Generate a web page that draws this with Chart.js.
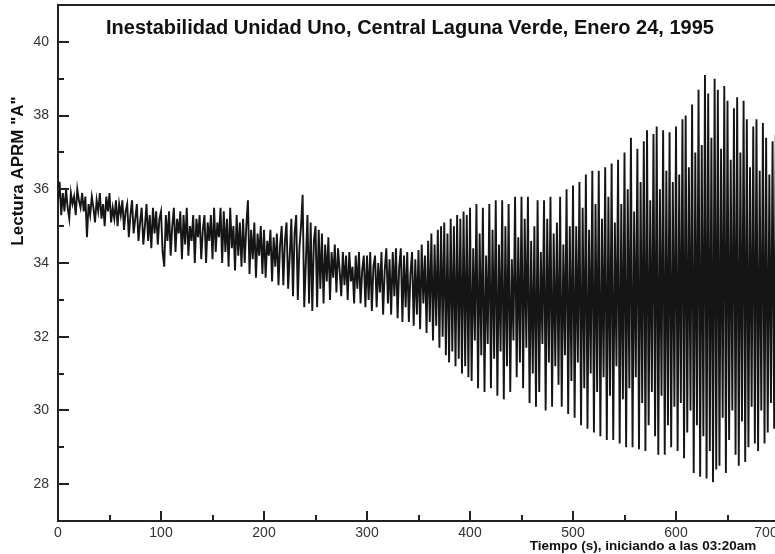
<!DOCTYPE html>
<html>
<head>
<meta charset="utf-8">
<script src="https://cdn.jsdelivr.net/npm/chart.js@4.4.1/dist/chart.umd.min.js"></script>
<style>
  html, body { margin: 0; padding: 0; overflow: hidden; background: #fff; }
  #wrap { width: 800px; height: 554px; }
</style>
</head>
<body>
<div id="wrap"><canvas id="aprmChart" width="800" height="554"></canvas></div>
<script>
// APRM "A" readings, one value every 100/64 s in 100 s blocks
var sampleStep = 100 / 64;

var aprm000 = [
	35.7, 36.2, 35.3, 35.9, 35.4, 36.0, 35.5, 35.2, 35.9, 35.6,
	35.8, 35.3, 36.0, 35.7, 35.5, 35.9, 35.4, 35.8, 34.7, 35.6,
	35.3, 35.8, 35.5, 35.1, 35.7, 35.4, 35.9, 35.2, 35.6, 35.0,
	35.8, 35.4, 35.9, 35.1, 35.5, 35.2, 35.7, 35.0, 35.6, 35.3,
	35.7, 34.9, 35.4, 35.6, 34.7, 35.3, 35.7, 34.8, 35.2, 35.6,
	34.6, 35.1, 35.5, 34.5, 35.0, 35.6, 34.6, 35.3, 34.4, 35.5,
	34.8, 35.4, 34.5, 35.2
];
var aprm100 = [
	35.4, 34.3, 33.9, 35.3, 34.6, 35.4, 34.2, 35.0, 35.5, 34.3,
	35.2, 34.8, 35.4, 34.1, 35.3, 34.5, 35.5, 34.2, 35.0, 34.6,
	35.3, 34.0, 35.2, 34.7, 35.3, 34.1, 34.9, 35.3, 34.0, 35.1,
	34.6, 35.3, 34.1, 35.5, 34.3, 35.1, 34.7, 35.5, 34.0, 35.4,
	34.3, 35.2, 33.9, 35.5, 34.4, 35.0, 33.8, 35.3, 34.2, 35.1,
	33.9, 35.2, 34.0, 35.0, 35.7, 33.7, 34.9, 34.1, 35.1, 33.6,
	34.8, 34.2, 35.0, 33.7
];
var aprm200 = [
	34.9, 33.6, 34.6, 34.2, 34.9, 33.5, 34.7, 33.9, 34.8, 33.4,
	34.5, 35.0, 33.4, 34.6, 35.1, 33.3, 34.2, 35.2, 33.1, 34.8,
	35.3, 33.0, 34.4, 35.0, 35.85, 32.8, 34.0, 35.3, 32.9, 35.1,
	32.7, 34.6, 35.0, 32.8, 34.9, 33.3, 34.8, 32.9, 34.5, 33.5,
	34.7, 33.0, 34.3, 33.6, 34.5, 33.2, 34.4, 33.8, 33.1, 34.3,
	33.4, 34.2, 33.0, 34.3, 33.5, 33.9, 32.9, 34.2, 33.3, 34.3,
	32.9, 33.8, 34.2, 32.8
];
var aprm300 = [
	34.2, 33.0, 34.3, 32.7, 33.9, 34.2, 32.8, 34.0, 33.2, 34.3,
	32.6, 33.8, 34.4, 32.9, 34.1, 32.6, 34.3, 33.1, 34.4, 32.5,
	33.9, 34.4, 32.4, 34.2, 32.8, 34.3, 32.4, 33.7, 34.3, 32.3,
	34.1, 32.6, 34.35, 32.2, 34.5, 32.9, 34.2, 32.1, 34.6, 32.4,
	34.8, 31.9, 34.5, 32.3, 34.9, 31.7, 35.0, 32.0, 35.1, 31.5,
	34.8, 31.3, 35.2, 31.6, 35.0, 31.2, 35.3, 31.4, 35.2, 31.0,
	35.4, 31.2, 35.3, 30.9
];
var aprm400 = [
	35.5, 30.8, 34.4, 31.9, 35.6, 30.6, 34.8, 31.5, 35.5, 30.5,
	34.2, 31.8, 35.6, 30.6, 34.9, 31.4, 35.7, 30.4, 34.5, 31.6,
	35.7, 30.3, 35.0, 31.2, 35.6, 30.5, 34.1, 31.9, 35.8, 30.9,
	34.7, 31.3, 35.8, 30.6, 35.2, 31.7, 35.8, 30.2, 34.6, 31.0,
	35.0, 30.1, 35.7, 30.5, 34.3, 31.8, 35.7, 30.0, 35.2, 31.3,
	35.8, 30.1, 34.8, 31.2, 35.1, 30.7, 35.8, 30.1, 34.5, 31.5,
	36.0, 29.9, 35.0, 30.8
];
var aprm500 = [
	36.1, 29.8, 35.0, 31.3, 36.2, 29.6, 35.5, 30.6, 36.4, 29.5,
	34.9, 31.0, 36.5, 29.4, 35.6, 30.5, 36.5, 29.3, 35.2, 30.9,
	36.6, 29.2, 35.8, 30.4, 36.7, 29.2, 35.1, 31.2, 36.8, 29.1,
	35.6, 30.3, 37.0, 29.0, 36.0, 30.6, 37.4, 29.0, 35.4, 30.9,
	37.1, 28.95, 36.2, 30.2, 37.3, 28.9, 37.6, 29.6, 35.7, 30.5,
	37.5, 29.3, 37.7, 28.8, 36.0, 30.4, 37.6, 28.8, 36.5, 29.6,
	37.55, 29.0, 36.2, 30.1
];
var aprm600 = [
	37.7, 28.9, 36.4, 30.2, 37.9, 28.7, 38.0, 29.4, 36.6, 30.0,
	38.3, 28.3, 37.0, 29.6, 38.7, 28.2, 37.2, 29.3, 39.1, 28.15,
	38.6, 28.9, 37.4, 28.05, 39.0, 28.4, 38.7, 28.5, 37.1, 29.8,
	38.8, 28.3, 38.4, 29.2, 36.8, 30.0, 38.2, 28.8, 38.5, 28.5,
	37.0, 29.7, 38.4, 28.6, 37.9, 29.0, 36.6, 30.1, 37.7, 29.1,
	37.9, 28.9, 36.5, 30.0, 37.8, 29.1, 37.4, 29.4, 36.4, 30.2,
	37.3, 29.5, 37.5, 29.3
];

var xTickValues = [0, 100, 200, 300, 400, 500, 600, 700];
var xMinorValues = [50, 150, 250, 350, 450, 550, 650];
var yTickValues = [28, 30, 32, 34, 36, 38, 40];
var yMinorValues = [29, 31, 33, 35, 37, 39];

var chartTitle = 'Inestabilidad Unidad Uno, Central Laguna Verde, Enero 24, 1995';
var yTitle = 'Lectura APRM "A"';
var xTitle = 'Tiempo (s), iniciando a las 03:20am';

var aprm = [].concat(aprm000, aprm100, aprm200, aprm300, aprm400, aprm500, aprm600);
var points = aprm.map(function(v, i) { return { x: i * sampleStep, y: v }; });

var fontFamily = '"Liberation Sans", Arial, sans-serif';

// frame, inward ticks, x labels and titles
var framePlugin = {
	id: 'frame',
	afterDraw: function(chart) {
		var ctx = chart.ctx, a = chart.chartArea;
		var xs = chart.scales.x, ys = chart.scales.y;
		ctx.save();
		ctx.strokeStyle = '#222';
		ctx.lineWidth = 2;
		ctx.beginPath();
		ctx.moveTo(a.left, a.top);
		ctx.lineTo(a.right, a.top);
		ctx.lineTo(a.right, a.bottom);
		ctx.stroke();

		ctx.beginPath();
		xTickValues.forEach(function(v) {
			if (v === 0) return;
			var px = Math.round(xs.getPixelForValue(v));
			ctx.moveTo(px, a.bottom); ctx.lineTo(px, a.bottom - 10);
		});
		xMinorValues.forEach(function(v) {
			var px = Math.round(xs.getPixelForValue(v));
			ctx.moveTo(px, a.bottom); ctx.lineTo(px, a.bottom - 6);
		});
		yTickValues.forEach(function(v) {
			var py = Math.round(ys.getPixelForValue(v));
			ctx.moveTo(a.left, py); ctx.lineTo(a.left + 11, py);
		});
		yMinorValues.forEach(function(v) {
			var py = Math.round(ys.getPixelForValue(v));
			ctx.moveTo(a.left, py); ctx.lineTo(a.left + 6, py);
		});
		ctx.stroke();

		// x tick labels
		ctx.fillStyle = '#333';
		ctx.font = '14px ' + fontFamily;
		ctx.textAlign = 'center';
		ctx.textBaseline = 'top';
		xTickValues.forEach(function(v) {
			var px = Math.min(xs.getPixelForValue(v), 766);
			ctx.fillText(String(v), px, a.bottom + 5);
		});

		// titles
		ctx.fillStyle = '#111';
		ctx.textBaseline = 'middle';
		ctx.font = 'bold 20px ' + fontFamily;
		ctx.fillText(chartTitle, 410, 28);

		ctx.font = 'bold 13.5px ' + fontFamily;
		ctx.fillText(xTitle, 643, 546);

		ctx.translate(18, 171);
		ctx.rotate(-Math.PI / 2);
		ctx.font = 'bold 17px ' + fontFamily;
		ctx.fillText(yTitle, 0, 0);
		ctx.restore();
	}
};

var ctx = document.getElementById('aprmChart').getContext('2d');
var aprmChart = new Chart(ctx, {
	type: 'line',
	data: {
		datasets: [{
			data: points,
			borderColor: '#151515',
			borderWidth: 1.9,
			pointRadius: 0,
			tension: 0,
			fill: false
		}]
	},
	options: {
		responsive: false,
		animation: false,
		devicePixelRatio: 1,
		layout: { padding: { left: 0, top: 5, right: 21, bottom: 0 } },
		plugins: {
			legend: { display: false },
			tooltip: { enabled: false },
			title: { display: false }
		},
		scales: {
			x: {
				type: 'linear',
				min: 0,
				max: 700,
				grid: { display: false, drawTicks: false },
				border: { display: true, color: '#222', width: 2 },
				ticks: { display: false },
				afterFit: function(s) {
					s.height = 33;
					s.paddingLeft = 0; s.paddingRight = 0;
				}
			},
			y: {
				min: 27,
				max: 41,
				grid: { display: false, drawTicks: false },
				border: { display: true, color: '#222', width: 2 },
				afterBuildTicks: function(s) {
					s.ticks = yTickValues.map(function(v) { return { value: v }; });
				},
				ticks: {
					padding: 9,
					color: '#333',
					font: { family: fontFamily, size: 14 }
				},
				afterFit: function(s) {
					s.width = 58;
					s.paddingTop = 0; s.paddingBottom = 0;
				}
			}
		}
	},
	plugins: [framePlugin]
});
</script>
</body>
</html>
